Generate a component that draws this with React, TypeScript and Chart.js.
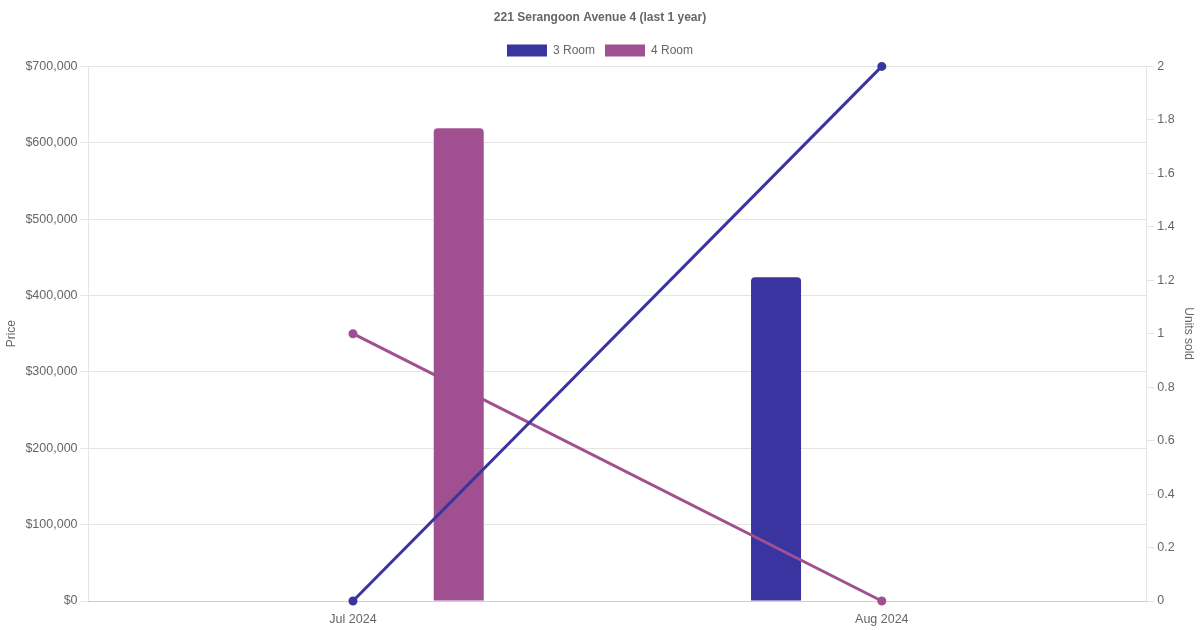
import React, { useEffect, useRef } from "react";
import { Chart, registerables } from "chart.js";

Chart.register(...registerables);

const TITLE = "221 Serangoon Avenue 4 (last 1 year)";
const months = ["Jul 2024", "Aug 2024"];
const price3Room: (number | null)[] = [null, 424000];
const price4Room: (number | null)[] = [619000, null];
const units3Room = [0, 2];
const units4Room = [1, 0];

const COLOR_3 = "rgb(57, 52, 160)";
const COLOR_4 = "rgb(160, 80, 145)";

export default function App() {
  const canvasRef = useRef<HTMLCanvasElement | null>(null);

  useEffect(() => {
    document.body.style.margin = "0";
    const canvas = canvasRef.current;
    if (!canvas) return;
    Chart.defaults.font.family = "'Liberation Sans', Arial, sans-serif";
    Chart.defaults.font.size = 12;
    Chart.defaults.color = "#666";
    const tickFont = { size: 12.5 };
    const chart = new Chart(canvas, {
      type: "bar",
      data: {
        labels: months,
        datasets: [
          {
            type: "line",
            label: "3 Room units",
            data: units3Room,
            yAxisID: "yUnits",
            borderColor: COLOR_3,
            backgroundColor: COLOR_3,
            borderWidth: 3,
            pointRadius: 3,
            clip: false,
            order: 0,
          },
          {
            type: "line",
            label: "4 Room units",
            data: units4Room,
            yAxisID: "yUnits",
            borderColor: COLOR_4,
            backgroundColor: COLOR_4,
            borderWidth: 3,
            pointRadius: 3,
            clip: false,
            order: 0,
          },
          {
            type: "bar",
            label: "3 Room",
            data: price3Room,
            yAxisID: "yPrice",
            backgroundColor: COLOR_3,
            borderColor: COLOR_3,
            borderRadius: 4,
            maxBarThickness: 50,
            order: 1,
          },
          {
            type: "bar",
            label: "4 Room",
            data: price4Room,
            yAxisID: "yPrice",
            backgroundColor: COLOR_4,
            borderColor: COLOR_4,
            borderRadius: 4,
            maxBarThickness: 50,
            order: 1,
          },
        ] as any,
      },
      options: {
        responsive: true,
        maintainAspectRatio: false,
        animation: false,
        plugins: {
          title: {
            display: true,
            text: TITLE,
            font: { size: 12, weight: "bold" },
          },
          legend: {
            display: true,
            labels: {
              filter: (item: any) => item.text === "3 Room" || item.text === "4 Room",
            },
          },
          tooltip: { enabled: false },
        },
        scales: {
          x: {
            grid: { display: false },
            ticks: { font: tickFont },
          },
          yPrice: {
            type: "linear",
            position: "left",
            min: 0,
            max: 700000,
            ticks: {
              stepSize: 100000,
              font: tickFont,
              callback: (v: any) => "$" + Number(v).toLocaleString("en-US"),
            },
            title: { display: true, text: "Price" },
          },
          yUnits: {
            type: "linear",
            position: "right",
            min: 0,
            max: 2,
            ticks: {
              stepSize: 0.2,
              font: tickFont,
              callback: (v: any) => String(Math.round(Number(v) * 10) / 10),
            },
            grid: { drawOnChartArea: false },
            title: { display: true, text: "Units sold" },
          },
        },
      },
    });
    return () => chart.destroy();
  }, []);

  return (
    <div style={{ position: "fixed", left: 0, top: 0, width: 1200, height: 630 }}>
      <canvas ref={canvasRef} />
    </div>
  );
}
